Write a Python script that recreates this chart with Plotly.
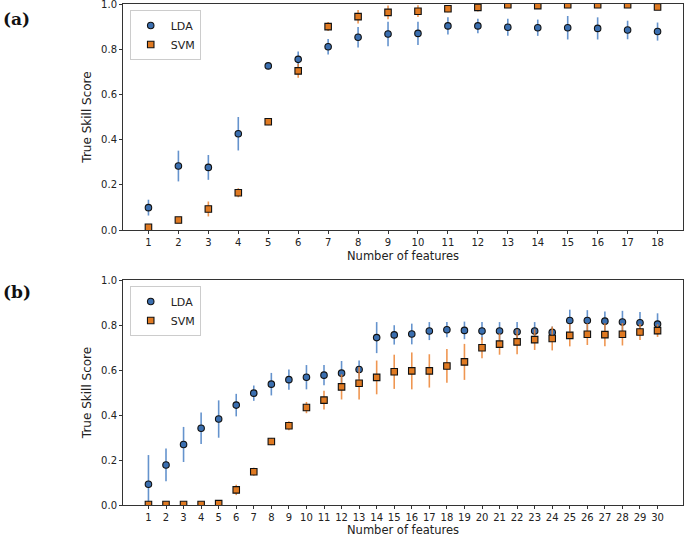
import plotly.graph_objects as go
from plotly.subplots import make_subplots

# panel (a): 18 feature counts
feat_a = list(range(1, 19))
lda_a = [0.099, 0.283, 0.277, 0.426, 0.726, 0.755, 0.811, 0.853, 0.867, 0.870,
         0.903, 0.903, 0.897, 0.895, 0.895, 0.892, 0.885, 0.878]
lda_a_err = [0.035, 0.068, 0.055, 0.074, 0.010, 0.035, 0.034, 0.045, 0.054, 0.051,
             0.038, 0.032, 0.038, 0.036, 0.052, 0.049, 0.041, 0.040]
svm_a = [0.012, 0.044, 0.093, 0.165, 0.479, 0.704, 0.900, 0.944, 0.963, 0.968,
         0.979, 0.985, 0.997, 0.993, 0.997, 0.997, 0.997, 0.987]
svm_a_err = [0.008, 0.006, 0.033, 0.020, 0.015, 0.030, 0.020, 0.030, 0.030, 0.026,
             0.015, 0.018, 0.008, 0.008, 0.008, 0.008, 0.008, 0.008]

# panel (b): 30 feature counts
feat_b = list(range(1, 31))
lda_b = [0.092, 0.178, 0.269, 0.341, 0.382, 0.444, 0.497, 0.537, 0.557, 0.568,
         0.577, 0.586, 0.602, 0.744, 0.756, 0.760, 0.773, 0.779, 0.776, 0.773,
         0.773, 0.770, 0.773, 0.767, 0.820, 0.820, 0.817, 0.813, 0.810, 0.804]
lda_b_err = [0.130, 0.073, 0.078, 0.070, 0.083, 0.050, 0.034, 0.050, 0.045, 0.054,
             0.045, 0.054, 0.040, 0.069, 0.043, 0.046, 0.040, 0.034, 0.039, 0.040,
             0.040, 0.043, 0.040, 0.026, 0.048, 0.046, 0.043, 0.050, 0.048, 0.048]
svm_b = [0.002, 0.002, 0.002, 0.002, 0.006, 0.067, 0.148, 0.282, 0.352, 0.433,
         0.466, 0.525, 0.541, 0.567, 0.592, 0.596, 0.596, 0.618, 0.636, 0.699,
         0.715, 0.725, 0.735, 0.740, 0.754, 0.759, 0.757, 0.759, 0.769, 0.775]
svm_b_err = [0.003, 0.003, 0.003, 0.003, 0.004, 0.023, 0.018, 0.016, 0.020, 0.025,
             0.042, 0.056, 0.072, 0.075, 0.076, 0.082, 0.074, 0.075, 0.080, 0.047,
             0.047, 0.055, 0.046, 0.053, 0.049, 0.048, 0.051, 0.050, 0.036, 0.028]

y_ticks = [0.0, 0.2, 0.4, 0.6, 0.8, 1.0]

LDA_FILL = '#3b6fb0'
LDA_ERR = 'rgba(74,128,196,0.85)'
SVM_FILL = '#e07a22'
SVM_ERR = 'rgba(236,132,50,0.85)'

fig = make_subplots(rows=2, cols=1)


def add_panel(row, feats, lda, lda_err, svm, svm_err, legend):
    fig.add_trace(go.Scatter(
        x=feats, y=lda, mode='markers', name='LDA', legend=legend,
        marker=dict(symbol='circle', size=6.5, color=LDA_FILL,
                    line=dict(width=1.1, color='#111')),
        error_y=dict(type='data', array=lda_err, color=LDA_ERR,
                     thickness=1.6, width=0),
    ), row=row, col=1)
    fig.add_trace(go.Scatter(
        x=feats, y=svm, mode='markers', name='SVM', legend=legend,
        marker=dict(symbol='square', size=6.5, color=SVM_FILL,
                    line=dict(width=1.1, color='#111')),
        error_y=dict(type='data', array=svm_err, color=SVM_ERR,
                     thickness=1.6, width=0),
    ), row=row, col=1)


add_panel(1, feat_a, lda_a, lda_a_err, svm_a, svm_a_err, 'legend')
add_panel(2, feat_b, lda_b, lda_b_err, svm_b, svm_b_err, 'legend2')

axis_common = dict(
    showline=True, linecolor='#333', linewidth=1, mirror=True, automargin=False,
    ticks='outside', ticklen=3, tickcolor='#333', showgrid=False, zeroline=False,
    ticklabeloverflow='allow',
    tickfont=dict(family='DejaVu Sans', size=10, color='#222'),
    title_font=dict(family='DejaVu Sans', size=12, color='#222'),
)

fig.update_xaxes(axis_common)
fig.update_yaxes(axis_common)

fig.update_xaxes(range=[0.15, 18.85], tickvals=feat_a, domain=[0, 1], row=1, col=1)
fig.update_xaxes(range=[-0.45, 31.45], tickvals=feat_b, domain=[0, 1], row=2, col=1)
fig.update_yaxes(range=[0, 1], tickvals=y_ticks, tickformat='.1f',
                 title_text='True Skill Score', title_standoff=6,
                 domain=[0.5489, 1.0], row=1, col=1)
fig.update_yaxes(range=[0, 1], tickvals=y_ticks, tickformat='.1f',
                 title_text='True Skill Score', title_standoff=6,
                 domain=[0.0, 0.4491], row=2, col=1)

legend_style = dict(
    bgcolor='white', bordercolor='#ccc', borderwidth=1,
    font=dict(family='DejaVu Sans', size=11, color='#222'),
    xanchor='left', yanchor='top', tracegroupgap=0,
)

label_font = dict(family='DejaVu Serif', size=17, color='#111')
xtitle_font = dict(family='DejaVu Sans', size=11.5, color='#222')

fig.update_layout(
    width=685, height=537,
    margin=dict(l=123, r=2, t=4, b=32),
    plot_bgcolor='white', paper_bgcolor='white',
    showlegend=True,
    legend=dict(x=0.012, y=0.988, **legend_style),
    legend2=dict(x=0.012, y=0.437, **legend_style),
    annotations=[
        dict(text='<b>(a)</b>', x=-0.218, y=0.995, xref='paper', yref='paper',
             xanchor='left', yanchor='top', showarrow=False, font=label_font),
        dict(text='<b>(b)</b>', x=-0.218, y=0.449, xref='paper', yref='paper',
             xanchor='left', yanchor='top', showarrow=False, font=label_font),
        dict(text='Number of features', x=0.5, y=0.497, xref='paper', yref='paper',
             xanchor='center', yanchor='middle', showarrow=False, font=xtitle_font),
        dict(text='Number of features', x=0.5, y=-0.0659, xref='paper', yref='paper',
             xanchor='center', yanchor='bottom', borderpad=0, showarrow=False,
             font=xtitle_font),
    ],
)

fig.write_html('out.html', config={'displayModeBar': False},
               post_script="document.body.style.margin='0';")
